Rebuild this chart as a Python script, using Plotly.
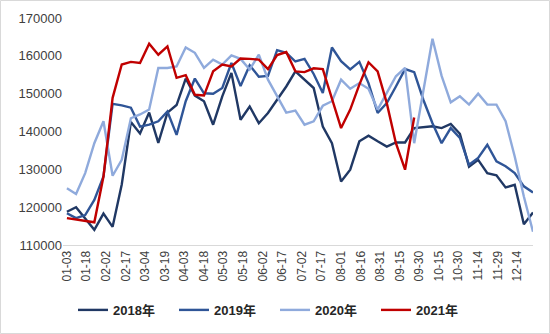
import pandas as pd
import plotly.graph_objects as go

# weekly categories (52 weeks starting 01-03)
weeks = pd.date_range("2021-01-03", periods=52, freq="7D").strftime("%Y-%m-%d").tolist()

# tick labels every 15 days
tick_dates = pd.date_range("2021-01-03", "2021-12-14", freq="15D").strftime("%Y-%m-%d").tolist()
tick_labels = ["01-03", "01-18", "02-02", "02-17", "03-04", "03-19", "04-03", "04-18",
               "05-03", "05-18", "06-02", "06-17", "07-02", "07-17", "08-01", "08-16",
               "08-31", "09-15", "09-30", "10-15", "10-30", "11-14", "11-29", "12-14"]

y2018 = [118800, 120000, 117000, 114000, 118300, 114800, 126000, 142500, 139500, 145000,
         137000, 145000, 147000, 154000, 149500, 148000, 141800, 149300, 155500, 143100,
         146600, 142200, 144900, 148400, 151900, 155900, 153700, 151500, 141300, 136900,
         126800, 129900, 137400, 138900, 137400, 136000, 137100, 137100, 140900, 141100,
         141400, 140900, 142000, 139400, 130700, 132500, 129000, 128400, 125200, 125900,
         115500, 118600]

y2019 = [118400, 117100, 117900, 121900, 128100, 147300, 146900, 146300, 141300, 141800,
         142700, 145300, 139100, 148000, 154000, 150100, 150000, 151500, 158100, 152000,
         157500, 154500, 154700, 161500, 160800, 158500, 159200, 155200, 150200, 162200,
         158600, 156400, 158400, 152800, 144900, 147500, 151900, 156500, 155700, 148400,
         142200, 136900, 140900, 138300, 131200, 133000, 136500, 132100, 130800, 129000,
         125500, 123900]

y2020 = [125000, 123500, 129000, 136900, 142700, 128300, 132500, 143500, 144500, 145800,
         156800, 156800, 157200, 162200, 160800, 156800, 159000, 157700, 160100, 159200,
         156400, 160300, 153700, 149300, 145000, 145500, 141800, 142700, 146800, 148000,
         153700, 151300, 152800, 151300, 145800, 150200, 154600, 156800, 136900, 150700,
         164500, 154700, 147700, 149300, 147100, 150000, 147100, 147100, 142700, 133400,
         122800, 113500]

y2021 = [117100, 116700, 116300, 116000, 128100, 148900, 157700, 158400, 158100, 163200,
         160300, 162500, 154200, 154900, 149700, 149500, 155900, 157700, 157200, 159300,
         159200, 159000, 156500, 160200, 161000, 155900, 155700, 156700, 156500, 148800,
         140900, 145800, 152400, 158300, 155900, 147500, 136900, 129900, 143700]

series = [
    ("2018年", y2018, "#203864"),
    ("2019年", y2019, "#2F5597"),
    ("2020年", y2020, "#8FAADC"),
    ("2021年", y2021, "#C00000"),
]

fig = go.Figure()
for name, vals, color in series:
    fig.add_trace(go.Scatter(
        x=weeks[:len(vals)], y=vals, name=name, mode="lines",
        line=dict(color=color, width=2.4),
    ))

L, R, T, B = 63, 17, 18, 89
W, H = 550, 334

fig.update_layout(
    width=W, height=H,
    margin=dict(l=L, r=R, t=T, b=B),
    paper_bgcolor="white", plot_bgcolor="white",
    font=dict(family="Liberation Sans, Arial, Noto Sans CJK SC", color="#404040"),
    showlegend=True,
    legend=dict(
        orientation="h", xref="container", yref="container",
        x=0.5, xanchor="center", y=0.072, yanchor="middle",
        font=dict(size=13, color="#262626", family="Liberation Sans, Noto Sans CJK SC",
                  weight="bold"),
        itemwidth=30, entrywidth=56, tracegroupgap=0,
    ),
    xaxis=dict(
        type="date", range=["2020-12-31", "2021-12-26"],
        tickmode="array", tickvals=tick_dates, ticktext=tick_labels,
        tickangle=-90, tickfont=dict(size=12, color="#404040"),
        showgrid=False, zeroline=False, showline=True, linecolor="#D9D9D9", linewidth=1,
        ticks="",
    ),
    yaxis=dict(
        range=[110000, 170000], dtick=10000, tickformat="d",
        tickfont=dict(size=13, color="#404040"),
        showgrid=False, zeroline=False, showline=False, ticks="",
    ),
)

# outer light frame around the chart
pw = W - L - R
ph = H - T - B
fig.add_shape(type="rect", xref="paper", yref="paper",
              x0=(0.5 - L) / pw, x1=(W - 0.5 - L) / pw,
              y0=(0.5 - B) / ph, y1=(H - 0.5 - B) / ph,
              line=dict(color="#D9D9D9", width=1), layer="below")

fig.write_html("out.html")
